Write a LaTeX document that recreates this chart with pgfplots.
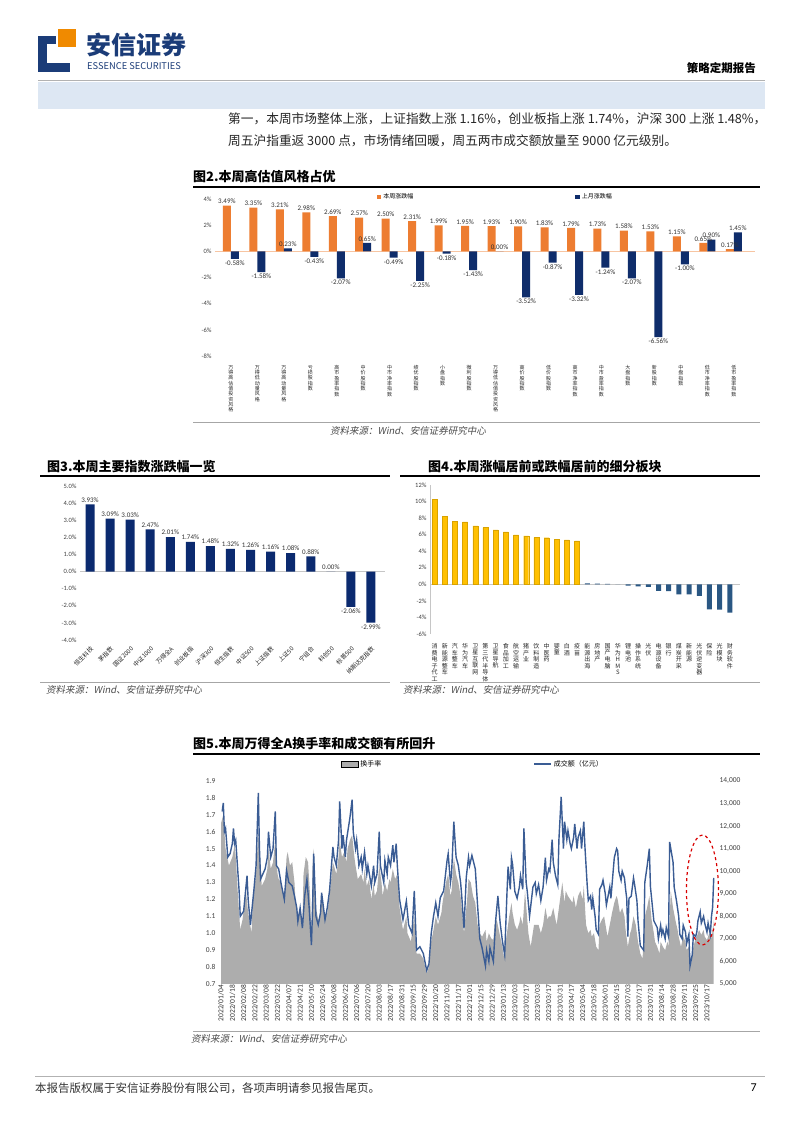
\documentclass[border=0pt]{standalone}
\usepackage{fontspec}
\setmainfont{Noto Sans CJK SC}
\newfontfamily\calf{Carlito}
\newfontfamily\cjkit[FakeSlant=0.2]{Noto Sans CJK SC}
\usepackage{pgfplots}
\usepackage{pgfplotstable}
\pgfplotsset{compat=1.18}
\pgfkeys{/pgf/number format/assume math mode=true}
\definecolor{ora}{HTML}{ED7D31}
\definecolor{nav}{HTML}{0F2D6B}
\definecolor{nav3}{HTML}{0B2A6F}
\definecolor{gold}{HTML}{FFC000}
\definecolor{bl4}{HTML}{2A5783}
\definecolor{ln5}{HTML}{3A5C94}
\definecolor{gr5}{HTML}{ADADAD}
\definecolor{hdr}{HTML}{1B3C78}
\definecolor{band}{HTML}{DDE7F3}
\definecolor{logoo}{HTML}{F08A00}
\newcommand\fs[1]{\fontsize{#1}{#1}\selectfont}
\def\vstsk{5.3pt}
\def\vstEnd{VSTEND}
\protected\def\vst#1{\vbox{\baselineskip=\vstsk\lineskiplimit=-\maxdimen\lineskip=0pt\vstA#1\vstEnd}}
\def\vstA#1{\ifx#1\vstEnd\else\hbox to 0pt{\hss#1\hss}\expandafter\vstA\fi}

\pgfplotstableread{
i w m
0 3.49 -0.58
1 3.35 -1.58
2 3.21 0.23
3 2.98 -0.43
4 2.69 -2.07
5 2.57 0.65
6 2.50 -0.49
7 2.31 -2.25
8 1.99 -0.18
9 1.95 -1.43
10 1.93 0.00
11 1.90 -3.52
12 1.83 -0.87
13 1.79 -3.32
14 1.73 -1.24
15 1.58 -2.07
16 1.53 -6.56
17 1.15 -1.00
18 0.65 0.90
19 0.17 1.45
}\figtwo

\pgfplotstableread{
i v
0 3.93
1 3.09
2 3.03
3 2.47
4 2.01
5 1.74
6 1.48
7 1.32
8 1.26
9 1.16
10 1.08
11 0.88
12 0.00
13 -2.06
14 -2.99
}\figthree

\pgfplotstableread{
i v
0 10.28
1 8.19
2 7.58
3 7.55
4 7.06
5 6.85
6 6.57
7 6.33
8 5.97
9 5.85
10 5.65
11 5.63
12 5.40
13 5.36
14 5.24
}\figfourup

\pgfplotstableread{
i v
15 0.12
16 0.08
17 0.05
18 -0.02
19 -0.15
20 -0.25
21 -0.30
22 -0.78
23 -0.82
24 -1.22
25 -1.22
26 -1.39
27 -3.02
28 -3.06
29 -3.43
}\figfourdn

\pgfplotstableread{
d amt
1 12650
2 13025
3 11750
4 11900
6 10625
8 10775
10 11225
11 11900
12 11225
13 11375
15 9875
16 9125
17 8000
20 8225
23 9800
24 8750
26 7625
29 9125
31 10250
33 13475
34 11000
35 9650
37 9875
39 10100
41 10625
42 11750
44 10625
46 11000
48 12650
49 10250
51 10100
53 9500
56 8750
58 10025
60 9500
63 9350
65 8900
67 8375
68 7775
70 8375
72 7475
74 8900
76 9650
78 8375
80 6725
81 8375
82 10775
84 8000
86 7625
88 8150
89 9050
92 7850
94 8375
96 9125
99 11075
100 10625
102 10250
104 11375
105 13100
107 11000
108 11600
110 10625
111 11375
114 12350
116 13175
117 11750
119 11000
120 11375
122 10250
124 10625
125 10100
127 10850
129 9875
130 10250
133 9350
135 10250
136 9500
138 9875
140 11750
141 10250
144 9500
145 10475
147 9875
148 10625
150 10250
152 11150
153 10400
155 11225
156 10250
158 8750
161 7850
164 8675
166 7625
169 7250
171 9125
173 6500
176 6650
179 6350
182 5600
184 5900
186 7250
188 8000
190 8600
192 8000
194 8825
197 9125
200 10475
201 10775
203 9500
204 9875
206 12200
208 10625
210 10250
212 9500
213 8900
215 7475
217 9725
219 10625
220 10250
222 10700
225 10100
227 8500
229 7000
231 6600
234 5800
235 6500
237 6000
238 6600
241 6000
243 7800
245 8900
247 7700
249 6900
251 6300
253 9000
254 10200
256 9200
257 10600
258 10300
260 9100
262 8800
264 9300
265 9800
267 9200
268 11900
270 9500
271 9100
273 8000
276 9300
278 9500
279 9000
281 9400
283 8700
285 9300
287 10600
288 9600
290 10100
291 10000
293 11400
294 10400
296 9800
298 9400
299 11400
301 13300
303 11000
304 12200
306 11400
307 11800
309 11200
310 11000
312 11500
313 12100
315 11000
316 11500
318 11800
319 11000
321 12200
322 11100
324 9400
325 8700
327 8900
328 8300
329 8800
331 8000
332 7400
334 7200
335 9200
337 9400
338 9600
340 9000
341 8500
344 9300
345 8800
347 10000
348 10600
350 11000
351 10900
352 10000
354 9600
355 10000
357 9700
358 9200
359 8800
360 7100
361 8800
363 8900
365 9700
366 9400
368 8700
369 7800
371 6700
374 6500
375 9500
377 10200
379 11000
380 9300
382 8300
383 7800
386 7500
387 7000
389 7600
390 7200
391 7400
393 7000
394 7500
396 7100
397 11300
400 10400
401 9300
403 8700
405 8000
406 7200
408 7000
409 7600
411 7300
412 6800
414 7200
415 5800
417 6300
418 7200
420 7100
421 7300
422 7800
424 8200
425 7700
427 8000
428 7700
430 7300
431 7700
433 7200
434 8000
435 8400
436 9700
}\figfiveline

\pgfplotstableread{
d v
0 1.65
2 1.70
4 1.50
7 1.40
10 1.45
12 1.52
13 1.45
15 1.22
17 1.02
19 1.08
22 1.25
24 1.12
27 1.00
28 1.18
31 1.35
33 1.60
35 1.40
36 1.28
39 1.32
41 1.38
42 1.50
44 1.38
46 1.42
48 1.55
50 1.35
51 1.32
53 1.30
56 1.22
58 1.45
59 1.48
61 1.40
63 1.42
65 1.30
66 1.18
68 1.08
70 1.15
72 1.05
73 1.35
75 1.45
77 1.42
79 1.20
80 0.95
81 1.40
82 1.50
84 1.15
86 1.08
88 1.10
89 1.22
92 1.08
94 1.12
96 1.22
99 1.42
102 1.35
104 1.45
105 1.55
107 1.45
109 1.48
111 1.42
112 1.50
114 1.55
116 1.58
118 1.45
119 1.40
121 1.32
124 1.35
126 1.30
127 1.38
129 1.28
131 1.32
133 1.20
135 1.30
136 1.22
138 1.25
140 1.40
142 1.30
143 1.22
145 1.30
147 1.25
149 1.32
150 1.30
152 1.38
154 1.32
156 1.35
158 1.15
161 1.02
164 1.10
165 1.00
168 0.95
171 1.10
173 0.88
176 0.88
179 0.85
182 0.76
184 0.80
186 0.95
188 1.02
190 1.10
192 1.05
195 1.12
196 1.18
199 1.30
201 1.35
203 1.22
204 1.25
206 1.45
208 1.35
210 1.30
212 1.22
213 1.15
215 1.00
218 1.22
219 1.32
221 1.30
223 1.22
225 1.18
227 1.05
229 1.00
231 0.98
234 1.02
235 0.95
237 1.00
239 0.97
241 0.96
242 1.05
244 1.08
247 0.98
249 0.92
250 0.86
253 1.00
255 1.10
257 1.18
258 1.12
260 1.05
262 1.02
264 1.06
265 1.10
267 1.05
269 1.25
271 1.08
272 1.00
274 0.92
277 1.05
279 1.05
281 1.05
283 1.00
285 1.05
287 1.15
289 1.08
290 1.10
292 1.10
294 1.15
296 1.08
297 1.05
300 1.20
302 1.30
304 1.18
305 1.25
307 1.22
309 1.20
311 1.18
312 1.22
314 1.15
316 1.22
318 1.25
320 1.20
321 1.28
323 1.05
325 1.00
327 1.02
328 0.98
330 1.00
332 0.92
334 0.90
335 1.05
337 1.08
339 1.10
341 1.02
342 0.98
344 1.05
346 1.12
348 1.18
350 1.22
351 1.20
353 1.12
355 1.15
357 1.10
358 1.02
360 0.92
362 1.00
363 1.02
365 1.10
367 1.05
369 0.95
371 0.88
373 0.85
375 1.10
377 1.15
379 1.22
381 1.08
383 1.00
384 0.95
386 0.92
388 0.88
389 0.95
391 0.92
393 0.90
395 0.95
396 0.92
398 1.25
400 1.15
402 1.08
404 1.02
405 0.98
407 0.92
409 0.98
411 0.95
412 0.90
414 0.92
416 0.82
418 0.92
420 0.97
421 0.98
423 1.02
425 0.99
427 1.02
428 0.98
430 0.96
432 1.00
434 0.97
435 1.02
436 1.08
}\figfivegray

\begin{document}
\begin{tikzpicture}
\path[use as bounding box] (0,0) rectangle (802pt,1133pt);
\fill[white] (0,0) rectangle (802pt,1133pt);
\begin{scope}[x=1pt,y=-1pt,yshift=1133pt]
% header
\fill[hdr] (38,36) rectangle (47,72);
\fill[hdr] (38,63) rectangle (70,72);
\fill[hdr] (38,36) rectangle (56,44);
\fill[logoo] (58,29) rectangle (76,47);
\node[anchor=west, text=hdr, font=\fs{25}\bfseries, inner sep=0pt] at (86,45) {安信证券};
\node[anchor=west, text=hdr, font=\fs{9.3}, inner sep=0pt] at (87,66) {ESSENCE SECURITIES};
\node[anchor=east, font=\fs{11.5}\bfseries, inner sep=0pt] at (756,68) {策略定期报告};
\draw[gray!60, line width=0.5pt] (38,80) -- (765,80);
\fill[band] (38,82) rectangle (765,109);
% paragraph
\node[anchor=west, font=\fs{12.7}, inner sep=0pt, text=black!85] at (228,119) {第一，本周市场整体上涨，上证指数上涨 1.16\%，创业板指上涨 1.74\%，沪深 300 上涨 1.48\%，};
\node[anchor=west, font=\fs{12.7}, inner sep=0pt, text=black!85] at (228,141) {周五沪指重返 3000 点，市场情绪回暖，周五两市成交额放量至 9000 亿元级别。};
% figure titles, rules, sources
\node[anchor=west, font=\fs{13}\bfseries, inner sep=0pt] at (193,177) {图2.本周高估值风格占优};
\draw[line width=1.2pt] (193,187) -- (760,187);
\draw[gray!70, line width=0.6pt] (193,422) -- (760,422);
\node[anchor=west, font=\cjkit\fs{9.5}, inner sep=0pt, text=black!70] at (330,431) {资料来源：Wind、安信证券研究中心};

\node[anchor=west, font=\fs{13}\bfseries, inner sep=0pt] at (47,467) {图3.本周主要指数涨跌幅一览};
\draw[line width=1.2pt] (40,476) -- (390,476);
\draw[gray!70, line width=0.6pt] (40,682) -- (390,682);
\node[anchor=west, font=\cjkit\fs{9.5}, inner sep=0pt, text=black!70] at (46,690) {资料来源：Wind、安信证券研究中心};

\node[anchor=west, font=\fs{13}\bfseries, inner sep=0pt] at (428,467) {图4.本周涨幅居前或跌幅居前的细分板块};
\draw[line width=1.2pt] (400,476) -- (760,476);
\draw[gray!70, line width=0.6pt] (400,682) -- (760,682);
\node[anchor=west, font=\cjkit\fs{9.5}, inner sep=0pt, text=black!70] at (403,690) {资料来源：Wind、安信证券研究中心};

\node[anchor=west, font=\fs{13}\bfseries, inner sep=0pt] at (193,744) {图5.本周万得全A换手率和成交额有所回升};
\draw[line width=1.2pt] (193,754) -- (760,754);
\draw[gray!70, line width=0.6pt] (193,1031) -- (760,1031);
\node[anchor=west, font=\cjkit\fs{9.5}, inner sep=0pt, text=black!70] at (191,1039) {资料来源：Wind、安信证券研究中心};
% footer
\draw[gray!60, line width=0.5pt] (35,1076) -- (765,1076);
\node[anchor=west, font=\fs{11.5}, inner sep=0pt, text=black!80] at (35,1088) {本报告版权属于安信证券股份有限公司，各项声明请参见报告尾页。};
\node[anchor=east, font=\calf\fs{12}, inner sep=0pt] at (757,1088) {7};
\end{scope}

% ---------- Figure 2 ----------
\begin{axis}[at={(215pt,777pt)}, anchor=south west, scale only axis,
  width=540pt, height=157pt, ybar=0pt, bar width=8pt,
  xmin=-0.6, xmax=19.8, ymin=-8, ymax=4, ytick={-8,-6,...,4},
  yticklabel={\pgfmathprintnumber{\tick}\%},
  yticklabel style={font=\calf\fs{6.5}, text=black!75},
  xtick={0,...,19},
  xticklabels={{\vst{万得高估值投资风格}},{\vst{万得低动量风格}},{\vst{万得高动量风格}},{\vst{亏损股指数}},{\vst{高市盈率指数}},{\vst{中价股指数}},{\vst{中市净率指数}},{\vst{绩优股指数}},{\vst{小盘指数}},{\vst{微利股指数}},{\vst{万得低估值投资风格}},{\vst{高价股指数}},{\vst{低价股指数}},{\vst{高市净率指数}},{\vst{中市盈率指数}},{\vst{大盘指数}},{\vst{新股指数}},{\vst{中盘指数}},{\vst{低市净率指数}},{\vst{低市盈率指数}}},
  xticklabel style={font=\fs{5}\def\vstsk{5.3pt}, anchor=north, inner sep=0pt, yshift=-5pt, text=black!85},
  axis line style={draw=none}, major tick style={draw=none}, clip=false,
  nodes near coords={\pgfmathprintnumber[fixed,fixed zerofill,precision=2]{\pgfplotspointmeta}\%},
  nodes near coords style={font=\calf\fs{7}, text=black!80, inner sep=1.5pt},
  legend style={draw=none, fill=none, at={(0.519,1)}, anchor=center, yshift=2pt,
    legend columns=2, font=\fs{6}, /tikz/every even column/.append style={column sep=160pt}},
  legend image code/.code={\fill[#1] (0pt,-2.3pt) rectangle (4.6pt,2.3pt);}
]
\draw[ora!45, line width=0.6pt] (axis cs:-0.6,0) -- (axis cs:19.8,0);
\addplot[fill=ora, draw=none] table[x=i, y=w] {\figtwo};
\addlegendentry{本周涨跌幅}
\addplot[fill=nav, draw=none] table[x=i, y=m] {\figtwo};
\addlegendentry{上月涨跌幅}
\end{axis}

% ---------- Figure 3 ----------
\begin{axis}[at={(80pt,493pt)}, anchor=south west, scale only axis,
  width=305pt, height=154pt, ybar, bar width=9pt,
  xmin=-0.5, xmax=14.7, ymin=-4, ymax=5, ytick={-4,...,5},
  yticklabel={\pgfmathprintnumber[fixed,fixed zerofill,precision=1]{\tick}\%},
  yticklabel style={font=\calf\fs{6.5}, text=black!75},
  xtick={0,...,14},
  xticklabels={恒生科技,茅指数,国证2000,中证1000,万得全A,创业板指,沪深300,恒生指数,中证500,上证指数,上证50,宁组合,科创50,标普500,纳斯达克指数},
  xticklabel style={font=\fs{6}, rotate=45, anchor=north east, inner sep=1pt, text=black!85},
  axis line style={draw=none}, major tick style={draw=none}, clip=false,
  nodes near coords={\pgfmathprintnumber[fixed,fixed zerofill,precision=2]{\pgfplotspointmeta}\%},
  nodes near coords style={font=\calf\fs{7}, text=black!80, inner sep=2pt}
]
\draw[gray!45, line width=0.6pt] (axis cs:-0.5,0) -- (axis cs:14.7,0);
\addplot[fill=nav3, draw=none] table[x=i, y=v] {\figthree};
\end{axis}

% ---------- Figure 4 ----------
\begin{axis}[at={(430pt,499pt)}, anchor=south west, scale only axis,
  width=310pt, height=149pt, ybar, bar width=5pt,
  xmin=-0.45, xmax=30, ymin=-6, ymax=12, ytick={-6,-4,...,12},
  yticklabel={\pgfmathprintnumber{\tick}\%},
  yticklabel style={font=\calf\fs{6.5}, text=black!75},
  xtick={0,...,29},
  xticklabels={{\vst{消费电子代工}},{\vst{新能源整车}},{\vst{汽车整车}},{\vst{华为汽车}},{\vst{卫星互联网}},{\vst{第三代半导体}},{\vst{卫星导航}},{\vst{食品加工}},{\vst{航空运输}},{\vst{猪产业}},{\vst{饮料制造}},{\vst{中医药}},{\vst{婴童}},{\vst{白酒}},{\vst{疫苗}},{\vst{能源出海}},{\vst{房地产}},{\vst{国产电脑}},{\vst{华为HMS}},{\vst{锂电池}},{\vst{操作系统}},{\vst{光伏}},{\vst{电源设备}},{\vst{银行}},{\vst{煤炭开采}},{\vst{新能源}},{\vst{光伏逆变器}},{\vst{保险}},{\vst{光模块}},{\vst{财务软件}}},
  xticklabel style={font=\fs{6}\def\vstsk{6.6pt}, anchor=north, inner sep=0pt, yshift=-5pt, text=black!85},
  axis line style={draw=none}, major tick style={draw=none}, clip=false
]
\draw[gray!45, line width=0.6pt] (axis cs:-0.45,0) -- (axis cs:30,0);
\draw[gray!45, line width=0.6pt] (rel axis cs:0,0) -- (rel axis cs:0,1);
\addplot[fill=gold, draw=gold!85!black, line width=0.3pt, bar shift=0pt] table[x=i, y=v] {\figfourup};
\addplot[fill=bl4, draw=none, bar shift=0pt] table[x=i, y=v] {\figfourdn};
\end{axis}

% ---------- Figure 5 ----------
\begin{axis}[at={(219pt,149pt)}, anchor=south west, scale only axis,
  width=497pt, height=203pt,
  xmin=-1.8, xmax=438, ymin=0.7, ymax=1.9,
  ytick={0.7,0.8,0.9,1.0,1.1,1.2,1.3,1.4,1.5,1.6,1.7,1.8,1.9},
  yticklabel style={font=\calf\fs{7.5}, text=black!75, /pgf/number format/.cd, fixed, fixed zerofill, precision=1},
  xtick={0,10,...,430},
  xticklabels={2022/01/04,2022/01/18,2022/02/08,2022/02/22,2022/03/08,2022/03/22,2022/04/07,2022/04/21,2022/05/10,2022/05/24,2022/06/08,2022/06/22,2022/07/06,2022/07/20,2022/08/03,2022/08/17,2022/08/31,2022/09/15,2022/09/29,2022/10/20,2022/11/03,2022/11/17,2022/12/01,2022/12/15,2022/12/29,2023/01/13,2023/02/03,2023/02/17,2023/03/03,2023/03/17,2023/03/31,2023/04/17,2023/05/04,2023/05/18,2023/06/01,2023/06/15,2023/07/03,2023/07/17,2023/07/31,2023/08/14,2023/08/28,2023/09/11,2023/09/25,2023/10/17},
  xticklabel style={font=\calf\fs{7.5}, rotate=90, anchor=east, inner sep=1pt, text=black!80},
  axis line style={draw=none}, major tick style={draw=none}
]
\addplot[fill=gr5, draw=none] table[x=d, y=v] {\figfivegray} \closedcycle;
\end{axis}
\begin{axis}[at={(219pt,149pt)}, anchor=south west, scale only axis,
  width=497pt, height=203pt,
  xmin=-1.8, xmax=438, ymin=5000, ymax=14000,
  ytick={5000,6000,...,14000}, scaled y ticks=false,
  yticklabel pos=right,
  yticklabel style={font=\calf\fs{7.5}, text=black!75, /pgf/number format/.cd, fixed, 1000 sep={,}},
  xtick=\empty,
  axis line style={draw=none}, major tick style={draw=none}, clip=false,
  legend style={draw=none, fill=none, at={(0.511,1)}, anchor=south, yshift=9pt,
    legend columns=2, font=\fs{7}, /tikz/every even column/.append style={column sep=150pt}}
]
\addlegendimage{area legend, fill=gr5, draw=none}
\addlegendentry{换手率}
\addplot[ln5, line width=1.4pt, mark=none] table[x=d, y=amt] {\figfiveline};
\addlegendentry{成交额（亿元）}
\draw[red!85!black, dashed, line width=1.2pt] (axis cs:426,9167) ellipse [x radius=16pt, y radius=55pt];
\end{axis}
\end{tikzpicture}
\end{document}
